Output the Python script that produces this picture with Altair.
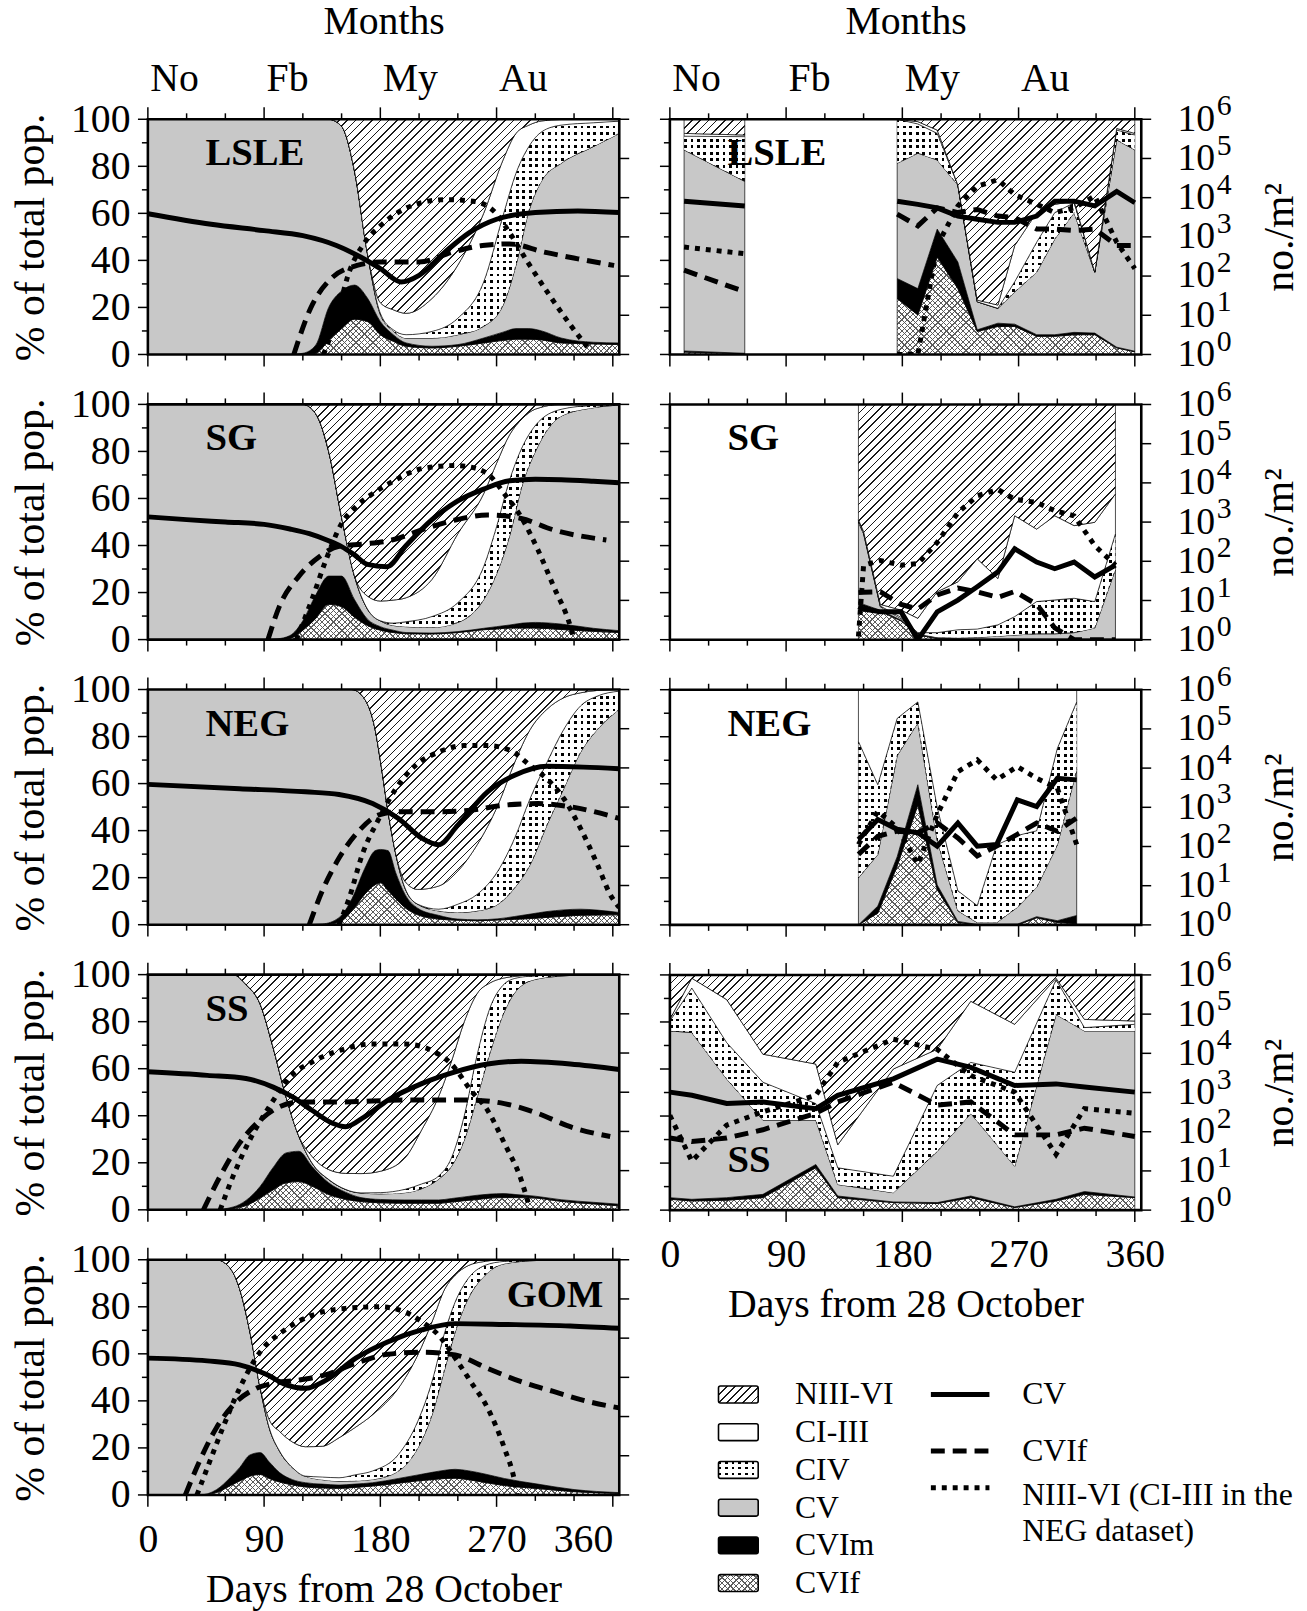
import math
import altair as alt
import pandas as pd

FONT = "Liberation Serif"
XMAX = 365
PW, PH = 475, 237

# ---------------- model (left column) : cumulative % boundaries ----------------
lsle_m_day = [0, 60, 110, 120, 130, 140, 150, 160, 170, 180, 190, 200, 220, 240, 260, 275, 285, 295, 305, 320, 345, 365]
lsle_m_cvif = [0, 0, 0, 0, 0.5, 6, 11, 15, 14, 8.4, 5.6, 3.5, 2.8, 3.5, 4.9, 6, 6.5, 6.5, 6.2, 4.9, 4.5, 4.2]
lsle_m_cvim = [0, 0, 0, 0.5, 4, 20, 27, 29.5, 24, 14, 8.4, 4.9, 3.5, 4.2, 7, 9.5, 11, 11, 10, 7, 5.2, 4.9]
lsle_m_cv = [100, 100, 100, 100, 100, 100, 97, 78, 43, 17, 10, 7, 7, 8.4, 12, 21, 38, 61, 74, 81.3, 88.4, 94]
lsle_m_civ = [100, 100, 100, 100, 100, 100, 97, 78, 43, 17.5, 10.5, 8.4, 9.8, 15.4, 30.8, 59, 77, 88.4, 94.7, 97.5, 98.5, 99.2]
lsle_m_ciii = [100, 100, 100, 100, 100, 100, 97, 78, 43, 22, 19, 17.5, 23.8, 38, 60, 82.7, 94, 97.5, 99.3, 99.9, 100, 100]
lsle_m_cv_line_day = [0, 49, 90, 120, 146, 165, 180, 196, 210, 230, 249, 270, 300, 333, 365]
lsle_m_cv_line_log = [3.59, 3.32, 3.16, 3.03, 2.78, 2.48, 2.19, 1.85, 2.02, 2.61, 3.11, 3.45, 3.62, 3.66, 3.62]
lsle_m_cvif_line_day = [113, 126, 142, 162, 180, 210, 236, 259, 280, 307, 333, 361]
lsle_m_cvif_line_log = [0, 1.18, 1.94, 2.27, 2.36, 2.36, 2.61, 2.78, 2.82, 2.61, 2.44, 2.27]
lsle_m_n_line_day = [136, 146, 155, 168, 180, 204, 230, 252, 269, 280, 294, 311, 327, 343]
lsle_m_n_line_log = [0, 0.92, 2.02, 2.86, 3.28, 3.79, 3.95, 3.91, 3.62, 3.11, 2.36, 1.51, 0.76, 0.08]

sg_m_day = [0, 60, 90, 100, 110, 120, 130, 140, 150, 160, 170, 180, 190, 200, 220, 240, 260, 270, 280, 290, 300, 320, 345, 365]
sg_m_cvif = [0, 0, 0, 0, 0.5, 4, 9, 15, 14, 9.5, 6, 4, 3, 2.5, 2.4, 3, 4.2, 4.5, 4.9, 4.9, 4.9, 4.3, 3.5, 3]
sg_m_cvim = [0, 0, 0, 0.3, 1.7, 8, 19, 27, 27, 17, 8.7, 5.5, 4, 3, 2.8, 3.4, 4.8, 5.5, 6.2, 7, 7.3, 6.6, 4.8, 3.8]
sg_m_cv = [100, 100, 100, 100, 100, 100, 96, 80, 52, 27, 13, 8, 6, 5.5, 5.2, 7.3, 17, 28, 44, 66, 80, 95, 98.6, 99.7]
sg_m_civ = [100, 100, 100, 100, 100, 100, 96, 80, 52, 27, 13, 8, 7, 7.6, 9.8, 15.7, 31, 48, 67.7, 82, 91, 97.9, 99.6, 100]
sg_m_ciii = [100, 100, 100, 100, 100, 100, 96, 80, 52, 27, 18.5, 16.4, 16.8, 17.8, 25.6, 45, 62, 75, 87, 94, 98, 100, 100, 100]
sg_m_cv_line_day = [0, 30, 60, 90, 110, 125, 140, 150, 160, 170, 185, 200, 220, 240, 260, 280, 300, 320, 345, 365]
sg_m_cv_line_log = [3.13, 3.06, 3.0, 2.94, 2.82, 2.7, 2.52, 2.37, 2.16, 1.92, 1.86, 2.4, 3.06, 3.54, 3.84, 4.05, 4.09, 4.08, 4.04, 4.0]
sg_m_cvif_line_day = [93, 102, 117, 133, 148, 168, 189, 212, 238, 263, 289, 314, 355]
sg_m_cvif_line_log = [0, 0.86, 1.62, 2.12, 2.38, 2.44, 2.54, 2.8, 3.05, 3.18, 3.09, 2.8, 2.54]
sg_m_n_line_day = [115, 127, 138, 150, 161, 174, 189, 212, 238, 255, 266, 276, 289, 302, 314, 327, 330]
sg_m_n_line_log = [0, 1.02, 2.04, 2.96, 3.39, 3.72, 4.02, 4.36, 4.44, 4.36, 4.14, 3.72, 3.13, 2.29, 1.37, 0.35, 0]

neg_m_day = [0, 60, 120, 135, 148, 158, 168, 176, 180, 186, 192, 199, 209, 225, 240, 255, 271, 284, 296, 309, 322, 335, 348, 365]
neg_m_cvif = [0, 0, 0, 0, 1, 5.9, 13, 17, 17.8, 14.5, 11, 7.3, 4.2, 2.4, 1.9, 1.7, 2, 2.3, 2.6, 3.1, 3.6, 4, 4.1, 4.2]
neg_m_cvim = [0, 0, 0, 0.3, 3, 11, 24, 31.5, 32, 31.5, 22, 13, 7, 4, 2.4, 2.1, 2.5, 3.5, 4.5, 5.6, 6.3, 6.6, 6.2, 5.2]
neg_m_cv = [100, 100, 100, 100, 100, 100, 95.8, 83, 70, 48, 30, 15.7, 8.7, 5.9, 5.2, 5.9, 8.7, 15.7, 25.6, 42.4, 57.9, 73.3, 83, 91.6]
neg_m_civ = [100, 100, 100, 100, 100, 100, 95.8, 83, 70, 48, 30, 15.7, 8.7, 6.6, 8.7, 12.9, 22.8, 36.8, 53.7, 69, 83, 93, 97.2, 99.3]
neg_m_ciii = [100, 100, 100, 100, 100, 100, 95.8, 83, 70, 48, 30, 18.5, 15, 16.4, 22.8, 34, 50.8, 69, 83, 91.6, 96.5, 98.6, 99.6, 100]
neg_m_cv_line_day = [0, 71, 122, 148, 174, 194, 212, 225, 240, 263, 284, 309, 337, 365]
neg_m_cv_line_log = [3.58, 3.47, 3.39, 3.32, 3.09, 2.71, 2.21, 2.04, 2.54, 3.39, 3.81, 4.04, 4.02, 3.98]
neg_m_cvif_line_day = [125, 135, 148, 163, 179, 194, 225, 250, 276, 302, 327, 365]
neg_m_cvif_line_log = [0, 0.86, 1.7, 2.38, 2.8, 2.88, 2.88, 2.92, 3.05, 3.09, 3.01, 2.71]
neg_m_n_line_day = [148, 156, 166, 179, 192, 207, 225, 245, 263, 281, 296, 309, 322, 335, 348, 358, 365]
neg_m_n_line_log = [0, 0.69, 1.79, 2.71, 3.47, 4.06, 4.4, 4.57, 4.57, 4.44, 4.06, 3.72, 3.22, 2.46, 1.54, 0.77, 0.44]

ss_m_day = [0, 50, 66, 76, 87, 97, 107, 117, 127, 140, 153, 165, 180, 199, 212, 225, 235, 245, 255, 265, 275, 285, 300, 320, 345, 365]
ss_m_cvif = [0, 0, 0.6, 1.8, 5, 8.5, 11.5, 12, 10.1, 6.5, 4.5, 3.5, 3, 2.8, 2.8, 2.8, 3.3, 3.9, 4.4, 5, 5.2, 5.2, 5, 3.6, 2.5, 1.7]
ss_m_cvim = [0, 0, 1.2, 4, 10, 18, 24.2, 24.9, 18.5, 11.5, 7.5, 5.2, 4.4, 4.2, 4.2, 4.2, 4.8, 5.5, 6.2, 6.7, 6.9, 6.5, 5.8, 4.3, 3.2, 2.4]
ss_m_cv = [100, 100, 100, 95.8, 87.4, 69, 48, 31.2, 20, 12.9, 8.7, 7.2, 6.8, 7.3, 9, 13, 18.5, 29.8, 48, 67, 83, 93, 98, 99.4, 100, 100]
ss_m_civ = [100, 100, 100, 95.8, 87.4, 69, 48, 31.2, 20, 12.9, 8.7, 7.2, 7.3, 8.7, 11, 14.3, 22, 40, 66, 86, 95.5, 98.5, 99.5, 100, 100, 100]
ss_m_ciii = [100, 100, 100, 95.8, 87.4, 69, 48, 31.2, 22.8, 17.1, 15.5, 15.4, 16.4, 22, 34, 48, 63, 80, 92, 96.5, 98.5, 99.3, 100, 100, 100, 100]
ss_m_cv_line_day = [0, 46, 76, 97, 112, 127, 143, 153, 168, 186, 212, 238, 263, 289, 327, 365]
ss_m_cv_line_log = [3.52, 3.43, 3.35, 3.13, 2.88, 2.54, 2.21, 2.12, 2.38, 2.8, 3.22, 3.52, 3.72, 3.79, 3.72, 3.58]
ss_m_cvif_line_day = [43, 56, 71, 87, 102, 117, 148, 199, 250, 276, 302, 327, 358]
ss_m_cvif_line_log = [0, 0.86, 1.7, 2.29, 2.63, 2.75, 2.75, 2.8, 2.8, 2.71, 2.46, 2.12, 1.87]
ss_m_n_line_day = [56, 66, 79, 94, 110, 127, 148, 174, 199, 220, 235, 250, 263, 276, 289, 296]
ss_m_n_line_log = [0, 0.86, 1.79, 2.63, 3.39, 3.77, 4.06, 4.23, 4.23, 4.06, 3.72, 3.05, 2.54, 1.7, 0.77, 0]

gom_m_day = [0, 40, 53, 64, 71, 79, 87, 94, 102, 112, 122, 135, 148, 160, 174, 194, 209, 220, 230, 238, 248, 261, 276, 302, 330, 365]
gom_m_cvif = [0, 0, 1, 4, 5.9, 8, 8.7, 7, 5.5, 4.3, 3.4, 3, 2.8, 3.2, 3.8, 5, 6, 6.5, 7, 7.1, 6.5, 5.3, 4, 2.7, 1.4, 0.6]
gom_m_cvim = [0, 0, 2.2, 7.5, 11.6, 17, 18, 14, 9.5, 6.5, 5.2, 4.6, 4.2, 4.6, 5.2, 7, 8.5, 9.6, 10.5, 10.9, 10.3, 8.9, 7, 4.6, 2.3, 1]
gom_m_cv = [100, 100, 100, 96.2, 87.7, 69.4, 45.4, 28.5, 18.6, 11.6, 8, 6.5, 5.9, 6, 6.6, 10.2, 20, 34.1, 53.9, 69.4, 83.5, 93.4, 98.3, 99.7, 100, 100]
gom_m_civ = [100, 100, 100, 96.2, 87.7, 69.4, 45.4, 28.5, 18.6, 11.6, 8, 7.6, 7.3, 8.5, 10.2, 17.2, 31.3, 48.2, 69.4, 82.1, 92, 97.6, 99.3, 100, 100, 100]
gom_m_ciii = [100, 100, 100, 96.2, 87.7, 69.4, 45.4, 32, 27, 22.5, 20.5, 20.7, 24.3, 28.5, 34.1, 45.4, 59.5, 73.6, 87.7, 93.5, 97.5, 99.3, 100, 100, 100, 100]
gom_m_cv_line_day = [0, 46, 71, 92, 107, 122, 138, 161, 186, 212, 238, 276, 327, 365]
gom_m_cv_line_log = [3.49, 3.42, 3.32, 3.07, 2.81, 2.72, 2.93, 3.49, 3.91, 4.21, 4.37, 4.35, 4.31, 4.25]
gom_m_cvif_line_day = [29, 40, 53, 69, 84, 97, 117, 138, 161, 186, 212, 238, 263, 289, 314, 340, 365]
gom_m_cvif_line_log = [0, 0.86, 1.71, 2.39, 2.72, 2.85, 2.93, 3.07, 3.36, 3.59, 3.64, 3.57, 3.23, 2.89, 2.64, 2.39, 2.22]
gom_m_n_line_day = [38, 48, 58, 71, 87, 104, 127, 153, 179, 199, 212, 225, 238, 250, 263, 276, 284, 286]
gom_m_n_line_log = [0, 0.86, 1.71, 2.72, 3.65, 4.16, 4.58, 4.76, 4.8, 4.67, 4.42, 4.08, 3.49, 2.89, 2.22, 1.2, 0.35, 0]

# ---------------- observations (right column) ----------------
lsle_o_day = [11, 58, 117, 176, 192, 207, 223, 238, 254, 267, 284, 298, 313, 329, 346, 360]
lsle_o_cvif = [1.0, 0.3, None, 23.8, 16.8, 41.4, 28, 9.8, 11.9, 11.9, 7.7, 7.7, 8.4, 8.4, 2.8, 1.1]
lsle_o_cvim = [1.5, 0.5, None, 32.3, 28, 53.3, 39.3, 10.5, 13.3, 12.9, 8.4, 8.4, 9.4, 9.1, 3.1, 1.4]
lsle_o_cv = [87, 73.6, None, 81.3, 85.6, 82.7, 72, 22.4, 19.6, 26.6, 35, 49.1, 60.3, 35, 91.2, 87]
lsle_o_civ = [92.8, 92.6, None, 100, 98, 94, 72, 22.4, 19.6, 30.9, 47.7, 60.3, 64.5, 35, 95.4, 93.3]
lsle_o_ciii = [94, 93.3, None, 100, 99, 95.4, 72, 23.1, 21, 46.3, 60.3, 63.8, 65.2, 35, 96.1, 94]
lsle_o_cv_log = [3.91, 3.79, None, 3.91, 3.83, 3.74, 3.53, 3.45, 3.37, 3.37, 3.53, 3.91, 3.91, 3.79, 4.16, 3.87]
lsle_o_cvif_log = [2.15, 1.6, None, 3.58, 3.28, 3.74, 3.62, 3.7, 3.53, 3.49, 3.2, 3.2, 3.16, 3.2, 2.78, 2.78]
lsle_o_n_log = [2.74, 2.57, None, 0, 0, 2.78, 3.79, 4.29, 4.46, 4.08, 3.83, 3.62, 3.74, 4.04, 2.86, 2.19]

sg_o_day = [146, 150, 163, 179, 192, 207, 223, 238, 254, 267, 284, 298, 313, 329, 345]
sg_o_cvif = [15, 14, 12, 8, 2, 0.5, 0.3, 0.2, 0.2, 0.2, 0.2, 0.2, 0.2, 0.2, 0.2]
sg_o_cvim = [16, 15, 12.5, 8.3, 2.2, 0.6, 0.4, 0.3, 0.3, 0.3, 0.3, 0.3, 0.3, 0.3, 0.3]
sg_o_cv = [50, 45, 14, 9, 2.5, 1, 0.8, 1, 1.5, 2, 2.5, 2.5, 3, 5, 30]
sg_o_civ = [50.5, 45.5, 14.3, 9.5, 3, 3, 4.2, 4.5, 6.3, 9.8, 16.2, 16.9, 17.6, 16.2, 45]
sg_o_ciii = [51, 46, 15, 12.6, 9.1, 20.4, 24.6, 34.4, 26, 52.7, 47, 52.7, 48.5, 49.9, 62]
sg_o_cv_log = [0.84, 0.78, 0.71, 0.71, 0, 0.71, 1.01, 1.35, 1.73, 2.32, 1.98, 1.81, 1.98, 1.6, 1.9]
sg_o_cvif_log = [1.2, 1.21, 1.22, 0.9, 0.78, 1.14, 1.32, 1.22, 1.08, 1.23, 0.9, 0.3, 0, 0, 0]
sg_o_n_log = [0.08, 1.9, 2.02, 1.9, 1.94, 2.48, 3.24, 3.67, 3.83, 3.58, 3.5, 3.29, 3.16, 2.4, 1.9]

neg_o_day = [146, 161, 176, 192, 207, 223, 238, 253, 269, 284, 300, 315]
neg_o_cvif = [0, 5, 25, 51, 15, 1, 0, 0, 0, 3, 1, 0.5]
neg_o_cvim = [0, 8, 29, 59.6, 17, 1.5, 0.2, 0.2, 0.3, 3.5, 1.8, 4]
neg_o_cv = [20, 30, 72, 86, 36, 6, 1, 1, 7.5, 16, 34, 66]
neg_o_civ = [78, 59.6, 87.8, 94.8, 50, 14.5, 8.2, 34, 38, 40, 75, 94.8]
neg_o_ciii = [100, 100, 100, 100, 100, 100, 100, 100, 100, 100, 100, 100]
neg_o_cv_log = [2.18, 2.69, 2.44, 2.35, 2.01, 2.6, 2.01, 2.05, 3.19, 3.02, 3.74, 3.7]
neg_o_cvif_log = [1.8, 2.26, 2.39, 2.35, 2.6, 2.22, 1.76, 2.01, 2.31, 2.6, 2.39, 2.73]
neg_o_n_log = [2.05, 2.9, 2.48, 1.55, 2.81, 3.91, 4.21, 3.7, 4.04, 3.74, 3.49, 2.05]

ss_o_day = [0, 17, 44, 72, 113, 130, 173, 207, 233, 267, 299, 321, 360]
ss_o_cvif = [4.6, 3.9, 4.2, 5.3, 18, 5.3, 3.2, 2.8, 5.3, 1.1, 3.9, 6.7, 5.3]
ss_o_cvim = [5.3, 4.6, 5.3, 6.7, 19.4, 6, 3.5, 3.2, 6, 1.4, 4.6, 7.9, 5.6]
ss_o_cv = [76.2, 75.5, 55.8, 38.3, 38.3, 10.9, 7.4, 25, 41.1, 18.7, 83.2, 76.2, 76.2]
ss_o_civ = [80.4, 94.4, 71.2, 54.4, 45.3, 18, 14.4, 53, 62.8, 58.6, 97.9, 77.6, 79]
ss_o_ciii = [81.1, 98.6, 89.5, 66.3, 62.1, 27.8, 60, 68.4, 88.8, 79, 98.6, 81.1, 80.4]
ss_o_cv_log = [3.01, 2.93, 2.72, 2.76, 2.59, 2.93, 3.35, 3.85, 3.64, 3.18, 3.22, 3.14, 3.01]
ss_o_cvif_log = [1.84, 1.75, 1.84, 2.05, 2.47, 2.76, 3.26, 2.68, 2.76, 1.92, 1.92, 2.09, 1.88]
ss_o_n_log = [2.42, 1.25, 2.17, 2.51, 2.93, 3.77, 4.36, 4.1, 3.43, 3.01, 1.42, 2.59, 2.47]

# ---------------- axis ticks / legend text ----------------
x_major = [0, 90, 180, 270, 360]
x_minor = [30, 60, 120, 150, 210, 240, 300, 330]
p_major = [0, 20, 40, 60, 80, 100]
p_minor = [10, 30, 50, 70, 90]
log_ticks = [1, 10, 100, 1000, 10000, 100000, 1000000]
log_exponents = ["0", "1", "2", "3", "4", "5", "6"]
month_ticks = [0, 90, 180, 270]
legend_stages = ["NIII-VI", "CI-III", "CIV", "CV", "CVIm", "CVIf"]
legend_lines = ["CV", "CVIf", "NIII-VI (CI-III in the", "NEG dataset)"]

STAGES = ["CVIf", "CVIm", "CV", "CIV", "CI-III", "NIII-VI"]
CLEAR = "rgba(255,255,255,0)"
LAB = 40  # tick label / axis title size

XS = alt.Scale(domain=[0, XMAX], nice=False, zero=False)
PS = alt.Scale(domain=[0, 100], nice=False, zero=False)
LS = alt.Scale(type="log", domain=[1, 1000000], nice=False)


def grad_stops(n, frac, fg, bg):
    out = []
    for i in range(n):
        a = round(i / n, 6)
        b = round((i + frac) / n, 6)
        c = round((i + 1) / n, 6)
        out += [{"color": fg, "offset": a}, {"color": fg, "offset": b},
                {"color": bg, "offset": b}, {"color": bg, "offset": c}]
    return out


def diag(w, h, period, lw, fg, bg, back=False):
    w = max(w, 2.0)
    h = max(h, 2.0)
    k = (w + h) / (w * w + h * h)
    n = max(1, int(round((w + h) / (math.sqrt(2) * period))))
    if back:
        x1, y1, x2, y2 = 0, 1, k * w, 1 - k * h
    else:
        x1, y1, x2, y2 = 0, 0, k * w, k * h
    return {"gradient": "linear", "x1": x1, "y1": y1, "x2": round(x2, 6), "y2": round(y2, 6),
            "stops": grad_stops(n, lw / period, fg, bg)}


def vstripes(w, period, lw, fg, bg):
    n = max(1, int(round(w / period)))
    return {"gradient": "linear", "x1": 0, "y1": 0, "x2": 1, "y2": 0, "stops": grad_stops(n, lw / period, fg, bg)}


def hstripes(h, period, lw, fg, bg):
    n = max(1, int(round(h / period)))
    return {"gradient": "linear", "x1": 0, "y1": 0, "x2": 0, "y2": 1, "stops": grad_stops(n, lw / period, fg, bg)}


def stage_fills(stage, w, h):
    if stage == "CVIf":
        return [diag(w, h, 4.0, 0.9, "#5c5c5c", "#ffffff"),
                diag(w, h, 4.0, 0.9, "#5c5c5c", CLEAR, back=True)]
    if stage == "CVIm":
        return ["#000000"]
    if stage == "CV":
        return ["#c8c8c8"]
    if stage == "CIV":
        return [vstripes(w, 6.5, 2.7, "#000000", "#ffffff"),
                hstripes(h, 6.5, 2.7, CLEAR, "#ffffff")]
    if stage == "CI-III":
        return ["#ffffff"]
    return [diag(w, h, 5.9, 1.1, "#1a1a1a", "#ffffff")]


def ax_left():
    return alt.Axis(orient="left", values=p_major, labelPadding=18, title="% of total pop.",
                    titlePadding=18, titleFontSize=42)


def ax_right():
    return alt.Axis(orient="right", values=log_ticks, labelPadding=36, labelExpr="'10'", labelFontSize=38,
                    title="no./m\u00b2", titleAngle=270, titleBaseline="top", titlePadding=45,
                    titleFontSize=42)


def ax_top():
    return alt.Axis(orient="top", values=month_ticks, labelAlign="left", labelBaseline="alphabetic",
                    labelExpr="datum.value == 0 ? 'No' : datum.value == 90 ? 'Fb' : datum.value == 180 ? 'My' : 'Au'",
                    labelPadding=29, labelOffset=2, title="Months", titlePadding=17)


def ax_bottom(last_right):
    kw = {}
    if last_right:
        kw["labelAlign"] = {"condition": {"test": "datum.value === 360", "value": "right"}, "value": "center"}
    return alt.Axis(orient="bottom", values=x_major, format="d", labelPadding=25,
                    title="Days from 28 October", titlePadding=10, **kw)


def tick_layers(side):
    out = []
    for vals, ln in ((x_major, 12), (x_minor, 6)):
        df = pd.DataFrame({"v": vals})
        out.append(alt.Chart(df).mark_rule(color="black", strokeWidth=1.5).encode(
            x=alt.X("v:Q", scale=XS, axis=None), y=alt.value(PH), y2=alt.value(PH + ln)))
        out.append(alt.Chart(df).mark_rule(color="black", strokeWidth=1.5).encode(
            x=alt.X("v:Q", scale=XS, axis=None), y=alt.value(0), y2=alt.value(-ln)))
    for vals, ln in ((p_major, 10), (p_minor, 6)):
        df = pd.DataFrame({"v": vals})
        out.append(alt.Chart(df).mark_rule(color="black", strokeWidth=1.5).encode(
            y=alt.Y("v:Q", scale=PS, axis=None), x=alt.value(0), x2=alt.value(-ln)))
    df = pd.DataFrame({"v": log_ticks, "e": log_exponents})
    out.append(alt.Chart(df).mark_rule(color="black", strokeWidth=1.5).encode(
        y=alt.Y("v:Q", scale=LS, axis=None), x=alt.value(PW), x2=alt.value(PW + 10)))
    if side == "right":
        out.append(alt.Chart(df).mark_text(font=FONT, fontSize=30, align="left", baseline="alphabetic",
                                           dy=-4, color="black").encode(
            y=alt.Y("v:Q", scale=LS, axis=None), x=alt.value(PW + 36 + 40), text="e:N"))
    return out


LINE_STYLES = [dict(strokeWidth=5), dict(strokeWidth=5, strokeDash=[14, 8]),
               dict(strokeWidth=5, strokeDash=[5, 6])]


def panel(days, tops, lines, interp, label, lab_pos, side, top, bottom):
    zero = [None if v is None else 0.0 for v in tops[0]]
    hund = [None if v is None else 100.0 for v in tops[0]]
    bnds = [zero] + list(tops) + [hund]
    layers = []
    first = True
    for s, stage in enumerate(STAGES):
        lo, hi = bnds[s], bnds[s + 1]
        valid = [(d, a, b) for d, a, b in zip(days, lo, hi) if a is not None]
        if max(b - a for _, a, b in valid) <= 0.01:
            continue
        xs = [d for d, _, _ in valid]
        w = (max(xs) - min(xs)) / XMAX * PW
        h = (max(b for _, _, b in valid) - min(a for _, a, _ in valid)) / 100 * PH
        df = pd.DataFrame({"day": days, "lo": lo, "hi": hi})
        for j, f in enumerate(stage_fills(stage, w, h)):
            xa = None
            ya = None
            if first:
                if side == "left":
                    ya = ax_left()
                if bottom:
                    xa = ax_bottom(side == "left")
                first = False
            kw = {"stroke": "black", "strokeWidth": 0.7} if j == 0 else {"strokeWidth": 0}
            layers.append(alt.Chart(df).mark_area(fill=f, interpolate=interp, **kw).encode(
                x=alt.X("day:Q", scale=XS, axis=xa),
                y=alt.Y("lo:Q", scale=PS, axis=ya),
                y2="hi:Q"))
    for k, (ldays, llog) in enumerate(lines):
        df = pd.DataFrame({"day": ldays, "val": [None if v is None else 10 ** v for v in llog]})
        xa = None
        ya = None
        if k == 0:
            if top:
                xa = ax_top()
            if side == "right":
                ya = ax_right()
        layers.append(alt.Chart(df).mark_line(color="black", interpolate=interp, clip=True,
                                              strokeCap="butt", **LINE_STYLES[k]).encode(
            x=alt.X("day:Q", scale=XS, axis=xa),
            y=alt.Y("val:Q", scale=LS, axis=ya)))
    one = pd.DataFrame({"a": [0]})
    lx, ly, al = lab_pos
    layers.append(alt.Chart(one).mark_text(font=FONT, fontSize=39, fontWeight="bold", align=al,
                                           baseline="middle", color="black").encode(
        x=alt.value(lx), y=alt.value(ly), text=alt.value(label)))
    layers.append(alt.Chart(one).mark_rect(fillOpacity=0, stroke="black", strokeWidth=2.6).encode(
        x=alt.value(0), x2=alt.value(PW), y=alt.value(0), y2=alt.value(PH)))
    layers += tick_layers(side)
    return alt.layer(*layers).resolve_scale(y="independent").resolve_axis(
        x="independent", y="independent").properties(width=PW, height=PH)


left_specs = [
    ("LSLE", lsle_m_day, [lsle_m_cvif, lsle_m_cvim, lsle_m_cv, lsle_m_civ, lsle_m_ciii],
     [(lsle_m_cv_line_day, lsle_m_cv_line_log), (lsle_m_cvif_line_day, lsle_m_cvif_line_log),
      (lsle_m_n_line_day, lsle_m_n_line_log)], (58, 34, "left")),
    ("SG", sg_m_day, [sg_m_cvif, sg_m_cvim, sg_m_cv, sg_m_civ, sg_m_ciii],
     [(sg_m_cv_line_day, sg_m_cv_line_log), (sg_m_cvif_line_day, sg_m_cvif_line_log),
      (sg_m_n_line_day, sg_m_n_line_log)], (58, 34, "left")),
    ("NEG", neg_m_day, [neg_m_cvif, neg_m_cvim, neg_m_cv, neg_m_civ, neg_m_ciii],
     [(neg_m_cv_line_day, neg_m_cv_line_log), (neg_m_cvif_line_day, neg_m_cvif_line_log),
      (neg_m_n_line_day, neg_m_n_line_log)], (58, 35, "left")),
    ("SS", ss_m_day, [ss_m_cvif, ss_m_cvim, ss_m_cv, ss_m_civ, ss_m_ciii],
     [(ss_m_cv_line_day, ss_m_cv_line_log), (ss_m_cvif_line_day, ss_m_cvif_line_log),
      (ss_m_n_line_day, ss_m_n_line_log)], (58, 35, "left")),
    ("GOM", gom_m_day, [gom_m_cvif, gom_m_cvim, gom_m_cv, gom_m_civ, gom_m_ciii],
     [(gom_m_cv_line_day, gom_m_cv_line_log), (gom_m_cvif_line_day, gom_m_cvif_line_log),
      (gom_m_n_line_day, gom_m_n_line_log)], (PW - 16, 36, "right")),
]

right_specs = [
    ("LSLE", lsle_o_day, [lsle_o_cvif, lsle_o_cvim, lsle_o_cv, lsle_o_civ, lsle_o_ciii],
     [lsle_o_cv_log, lsle_o_cvif_log, lsle_o_n_log], (58, 34, "left")),
    ("SG", sg_o_day, [sg_o_cvif, sg_o_cvim, sg_o_cv, sg_o_civ, sg_o_ciii],
     [sg_o_cv_log, sg_o_cvif_log, sg_o_n_log], (58, 34, "left")),
    ("NEG", neg_o_day, [neg_o_cvif, neg_o_cvim, neg_o_cv, neg_o_civ, neg_o_ciii],
     [neg_o_cv_log, neg_o_cvif_log, neg_o_n_log], (58, 35, "left")),
    ("SS", ss_o_day, [ss_o_cvif, ss_o_cvim, ss_o_cv, ss_o_civ, ss_o_ciii],
     [ss_o_cv_log, ss_o_cvif_log, ss_o_n_log], (58, 187, "left")),
]

left_panels = [panel(d, t, l, "monotone", name, pos, "left", i == 0, i == len(left_specs) - 1)
               for i, (name, d, t, l, pos) in enumerate(left_specs)]
right_panels = [panel(d, t, [(d, v) for v in l], "linear", name, pos, "right", i == 0, i == len(right_specs) - 1)
                for i, (name, d, t, l, pos) in enumerate(right_specs)]

# ---------------- legend ----------------
LEG_X_SW, LEG_X_TXT, LEG_X_L0, LEG_X_L1, LEG_X_LT = 49, 126, 263, 322, 355
LEG_Y0, LEG_DY = 19, 38
one = pd.DataFrame({"a": [0]})
leg_layers = []
for i, st in enumerate(legend_stages):
    yc = LEG_Y0 + i * LEG_DY
    fills = stage_fills(st, 40, 17)
    for j, f in enumerate(fills):
        kw = {"stroke": "black", "strokeWidth": 1.6} if j == len(fills) - 1 else {"strokeWidth": 0}
        leg_layers.append(alt.Chart(one).mark_rect(fill=f, cornerRadius=2, **kw).encode(
            x=alt.value(LEG_X_SW), x2=alt.value(LEG_X_SW + 40), y=alt.value(yc - 8.5), y2=alt.value(yc + 8.5)))
    leg_layers.append(alt.Chart(one).mark_text(font=FONT, fontSize=32, align="left", baseline="middle",
                                               color="black").encode(
        x=alt.value(LEG_X_TXT), y=alt.value(yc), text=alt.value(st)))
for k, yl in enumerate([19, 76, 113]):
    leg_layers.append(alt.Chart(one).mark_rule(color="black", strokeCap="butt", **LINE_STYLES[k]).encode(
        x=alt.value(LEG_X_L0), x2=alt.value(LEG_X_L1), y=alt.value(yl), y2=alt.value(yl)))
for txt, yt in zip(legend_lines, [19, 76, 120, 157]):
    leg_layers.append(alt.Chart(one).mark_text(font=FONT, fontSize=32, align="left", baseline="middle",
                                               color="black").encode(
        x=alt.value(LEG_X_LT), y=alt.value(yt), text=alt.value(txt)))
legend = alt.layer(*leg_layers).properties(width=640, height=230)

left_col = alt.vconcat(*left_panels, spacing=10.3)
right_col = alt.vconcat(alt.vconcat(*right_panels, spacing=3.4), legend, spacing=51)

chart = alt.hconcat(left_col, right_col, spacing=29).properties(
    padding={"left": 10, "top": -4, "right": 2, "bottom": 0}, background="white"
).configure_view(strokeWidth=0).configure_axis(
    labelFont=FONT, titleFont=FONT, labelFontSize=LAB, titleFontSize=LAB, titleFontWeight="normal",
    labelColor="black", titleColor="black", grid=False, domain=False, ticks=False, tickSize=0,
    labelOverlap=False, labelFlush=False
)

chart.save("out.html", embed_options={"renderer": "svg", "actions": False})
